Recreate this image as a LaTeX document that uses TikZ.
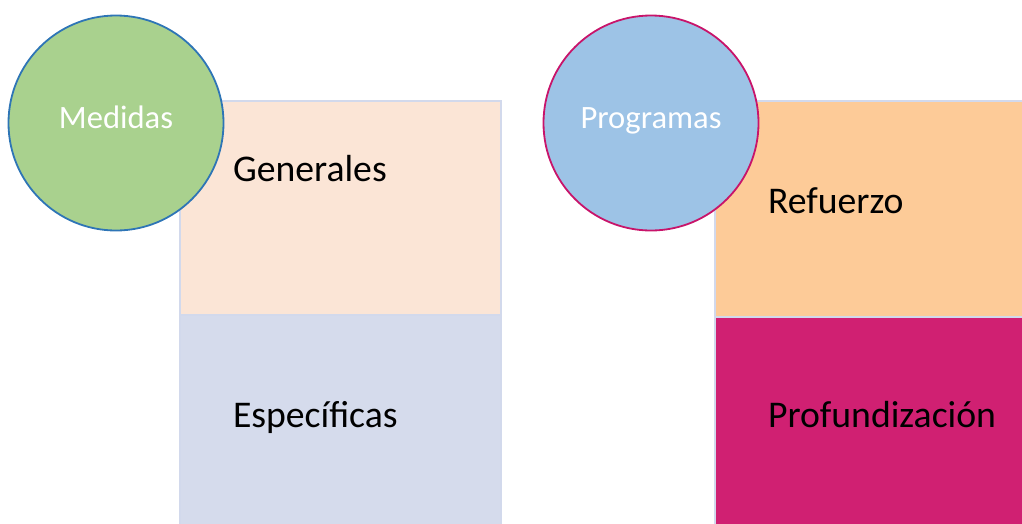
\documentclass[tikz,border=0pt]{standalone}
\usepackage{fontspec}
\setmainfont{Carlito}
\definecolor{peach}{HTML}{FBE5D6}
\definecolor{lilac}{HTML}{D5DBEC}
\definecolor{edgeblue}{HTML}{D2D9EC}
\definecolor{apricot}{HTML}{FDCB98}
\definecolor{berry}{HTML}{D02072}
\definecolor{leaf}{HTML}{A9D18E}
\definecolor{sky}{HTML}{9DC3E6}
\definecolor{ringblue}{HTML}{2E75B6}
\definecolor{ringberry}{HTML}{C8146A}

\begin{document}
\begin{tikzpicture}
  [x=1pt,y=-1pt,
   every node/.style={inner sep=0pt,outer sep=0pt},
   panel/.style={rectangle,draw=edgeblue,line width=1.5pt,anchor=north west},
   bubble/.style={circle,minimum size=215pt,line width=1.8pt},
   tag/.style={anchor=base west,font=\fontsize{37.7}{44}\selectfont}]
  \useasboundingbox (0,0) rectangle (1022,523);
  \clip (0,0) rectangle (1022,523);

  \node (gen) at (180,101) [panel,fill=peach,minimum width=321pt,minimum height=214pt] {};
  \node (esp) at (180,315) [panel,fill=lilac,minimum width=321pt,minimum height=230pt] {};
  \node (ref) at (715,101) [panel,fill=apricot,minimum width=330pt,minimum height=216pt] {};
  \node (pro) at (715,317) [panel,fill=berry,minimum width=330pt,minimum height=230pt] {};

  \node (tgen) at (233,181) [tag] {Generales};
  \node (tesp) at (233,427) [tag] {Específicas};
  \node (tref) at (768,213) [tag] {Refuerzo};
  \node (tpro) at (768,427) [tag] {Profundización};

  \node (med) at (116,123) [bubble,fill=leaf,draw=ringblue] {};
  \node (prog) at (651,123) [bubble,fill=sky,draw=ringberry] {};
  \node (tmed) at (116,128) [anchor=base,text=white,font=\fontsize{32.6}{38}\selectfont] {Medidas};
  \node (tprog) at (651,128) [anchor=base,text=white,font=\fontsize{32.6}{38}\selectfont] {Programas};
\end{tikzpicture}
\end{document}
